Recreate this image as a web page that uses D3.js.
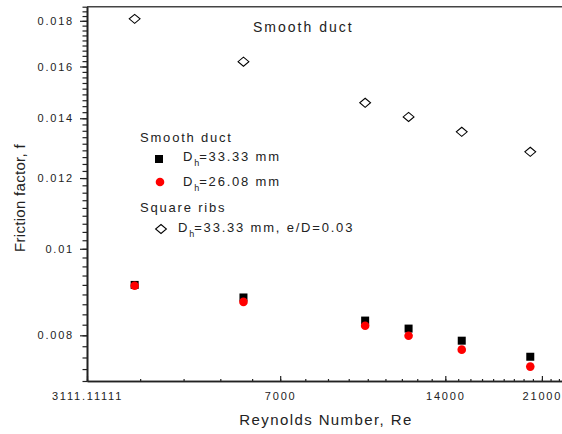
<!DOCTYPE html>
<html>
<head>
<meta charset="utf-8">
<script src="https://cdn.jsdelivr.net/npm/d3@7"></script>
<style>
  body { margin: 0; background: #fff; }
  svg { display: block; font-family: "Liberation Sans", Arial, sans-serif; }
</style>
</head>
<body>
<svg id="chart" width="562" height="434"></svg>
<script>
// data
const reynolds = [3800, 6000, 10000, 12000, 15000, 20000];
const smoothDh3333 = [0.00911, 0.00882, 0.00831, 0.00814, 0.00789, 0.00757];
const smoothDh2608 = [0.00909, 0.00872, 0.00820, 0.00799, 0.00771, 0.00738];
const ribsDh3333 = [0.01809, 0.01620, 0.01457, 0.01405, 0.01352, 0.01284];

const xMajorTicks = [28000 / 9, 7000, 14000, 21000];
const xMajorLabels = ['3111.11111', '7000', '14000', '21000'];
const yMajorTicks = [0.008, 0.01, 0.012, 0.014, 0.016, 0.018];
const yMajorLabels = ['0.008', '0.01', '0.012', '0.014', '0.016', '0.018'];

const X_STEP = 7000 / 9;
const Y_STEP = 0.002 / 9;

const svg = d3.select('#chart');

const x = d3.scaleLog().domain([4 * X_STEP, 30 * X_STEP]).range([87, 567]);
const y = d3.scaleLog().domain([32 * Y_STEP, 84 * Y_STEP]).range([381, 6.7]);

const xMinor = d3.range(4, 31).map((k) => k * X_STEP);
const yMinor = d3.range(32, 85).map((k) => k * Y_STEP);

// frame top line
svg.append('line')
  .attr('x1', 87).attr('x2', 562)
  .attr('y1', 6.7).attr('y2', 6.7)
  .attr('stroke', '#444').attr('stroke-width', 1.6);

// x axis: ticks point inward
const xAxisMinor = d3.axisBottom(x).tickValues(xMinor).tickSize(-2).tickSizeOuter(0).tickFormat('');
const xAxisMajor = d3.axisBottom(x)
  .tickValues(xMajorTicks).tickSize(-5).tickSizeOuter(0).tickPadding(11)
  .tickFormat((d, i) => xMajorLabels[i]);

const gxMinor = svg.append('g').attr('transform', 'translate(0,381)').call(xAxisMinor);
const gx = svg.append('g').attr('transform', 'translate(0,381)').call(xAxisMajor);

// y axis: ticks point outward
const yAxisMinor = d3.axisLeft(y).tickValues(yMinor).tickSize(4.5).tickSizeOuter(0).tickFormat('');
const yAxisMajor = d3.axisLeft(y)
  .tickValues(yMajorTicks).tickSize(7).tickSizeOuter(0).tickPadding(6)
  .tickFormat((d, i) => yMajorLabels[i]);

const gyMinor = svg.append('g').attr('transform', 'translate(87,0)').call(yAxisMinor);
const gy = svg.append('g').attr('transform', 'translate(87,0)').call(yAxisMajor);

[gxMinor, gx, gyMinor, gy].forEach((g) => {
  g.select('.domain').attr('stroke', '#222').attr('stroke-width', 1.6);
  g.selectAll('.tick line').attr('stroke', '#222').attr('stroke-width', 1.2);
});

[gx, gy].forEach((g) => {
  g.selectAll('.tick text')
    .attr('fill', '#222')
    .style('font-size', '11px')
    .style('font-family', '"Liberation Sans", Arial, sans-serif')
    .style('letter-spacing', '1.8px');
});

// axis titles
svg.append('text')
  .attr('x', 326).attr('y', 425)
  .attr('text-anchor', 'middle')
  .attr('fill', '#222')
  .style('font-size', '15px')
  .style('letter-spacing', '1.4px')
  .text('Reynolds Number, Re');

svg.append('text')
  .attr('transform', 'translate(25,198) rotate(-90)')
  .attr('text-anchor', 'middle')
  .attr('fill', '#222')
  .style('font-size', '15px')
  .style('letter-spacing', '0.3px')
  .text('Friction factor, f');

svg.append('text')
  .attr('x', 253).attr('y', 32)
  .attr('fill', '#222')
  .style('font-size', '14px')
  .style('letter-spacing', '2px')
  .text('Smooth duct');

// markers
const diamond = d3.symbol().type(d3.symbolDiamond).size(60);
const DIAMOND_SHAPE = 'scale(1.3,0.63)';

svg.append('g')
  .selectAll('path')
  .data(reynolds.map((re, i) => [re, ribsDh3333[i]]))
  .join('path')
  .attr('d', diamond)
  .attr('transform', (d) => `translate(${x(d[0])},${y(d[1])}) ${DIAMOND_SHAPE}`)
  .attr('fill', '#fff')
  .attr('stroke', '#000')
  .attr('stroke-width', 1.1);

svg.append('g')
  .selectAll('rect')
  .data(reynolds.map((re, i) => [re, smoothDh3333[i]]))
  .join('rect')
  .attr('x', (d) => x(d[0]) - 4)
  .attr('y', (d) => y(d[1]) - 4)
  .attr('width', 8)
  .attr('height', 8)
  .attr('fill', '#000');

svg.append('g')
  .selectAll('circle')
  .data(reynolds.map((re, i) => [re, smoothDh2608[i]]))
  .join('circle')
  .attr('cx', (d) => x(d[0]))
  .attr('cy', (d) => y(d[1]))
  .attr('r', 4.3)
  .attr('fill', '#ff0000');

// legend
const legend = svg.append('g')
  .attr('fill', '#222')
  .style('font-size', '13px')
  .style('letter-spacing', '1.8px');

legend.append('text').attr('x', 140).attr('y', 142).text('Smooth duct');
legend.append('text').attr('x', 140).attr('y', 212).text('Square ribs');

function dhLabel(xPos, yPos, rest) {
  const t = legend.append('text').attr('x', xPos).attr('y', yPos);
  t.append('tspan').text('D');
  t.append('tspan').attr('dy', 5).style('font-size', '9px').style('letter-spacing', '0px').text('h');
  t.append('tspan').attr('dy', -5).text(rest);
}

legend.append('rect').attr('x', 155).attr('y', 155).attr('width', 8).attr('height', 8).attr('fill', '#000');
dhLabel(183, 161, '=33.33 mm');

legend.append('circle').attr('cx', 160).attr('cy', 182).attr('r', 4.3).attr('fill', '#ff0000');
dhLabel(183, 186, '=26.08 mm');

legend.append('path')
  .attr('d', diamond)
  .attr('transform', `translate(161,229) ${DIAMOND_SHAPE}`)
  .attr('fill', '#fff')
  .attr('stroke', '#000')
  .attr('stroke-width', 1.1);
dhLabel(178, 232, '=33.33 mm, e/D=0.03');
</script>
</body>
</html>
